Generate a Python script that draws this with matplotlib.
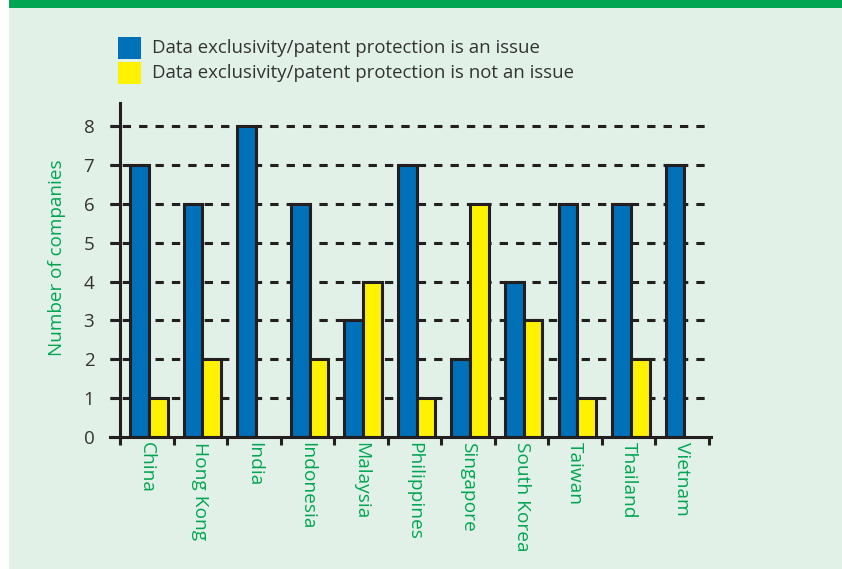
import matplotlib

matplotlib.use("Agg")
import matplotlib.pyplot as plt
import numpy as np
from matplotlib.patches import Rectangle

plt.rcParams["font.family"] = ["Open Sans", "DejaVu Sans"]
plt.rcParams["lines.scale_dashes"] = False

countries = ["China", "Hong Kong", "India", "Indonesia", "Malaysia", "Philippines",
             "Singapore", "South Korea", "Taiwan", "Thailand", "Vietnam"]
is_issue = [7, 6, 8, 6, 3, 7, 2, 4, 6, 6, 7]
not_issue = [1, 2, 0, 2, 4, 1, 6, 3, 1, 2, 0]
yticks = [0, 1, 2, 3, 4, 5, 6, 7, 8]
legend_labels = ["Data exclusivity/patent protection is an issue",
                 "Data exclusivity/patent protection is not an issue"]

BLUE = "#0070b9"
YELLOW = "#fff200"
GREEN = "#00a651"
INK = "#231f20"
GREY = "#333333"
BG = "#e2f1e7"

W, H = 842, 569
fig = plt.figure(figsize=(W / 100, H / 100), dpi=100)
fig.patch.set_facecolor("white")

# panel background and green top rule
fig.patches.append(Rectangle((9 / W, 0), 1 - 9 / W, 1, transform=fig.transFigure,
                             facecolor=BG, edgecolor="none", zorder=-3))
fig.patches.append(Rectangle((9 / W, 1 - 8 / H), 1 - 9 / W, 8 / H, transform=fig.transFigure,
                             facecolor=GREEN, edgecolor="none", zorder=-2))

ax = fig.add_axes([110 / W, 1 - 437 / H, (711 - 110) / W, (437 - 103) / H])
ax.set_facecolor("none")

n = len(countries)
x = np.arange(n)
bw = 0.35
lw = 2.2

issue = np.array(is_issue)
other = np.array(not_issue)
ax.bar(x[issue > 0] + 0.19 + bw / 2, issue[issue > 0], width=bw,
       color=BLUE, edgecolor=INK, linewidth=lw, zorder=3)
ax.bar(x[other > 0] + 0.19 + bw * 1.5, other[other > 0], width=bw,
       color=YELLOW, edgecolor=INK, linewidth=lw, zorder=3)

# dashed gridlines
x0 = -10 / 53.55
x1 = n + 2 / 53.55
ax.hlines(yticks[1:], x0, x1, colors=INK, linewidth=lw,
          linestyles=[(3, (6.0, 5.8))], zorder=1)

ax.set_xlim(x0, x1)
ax.set_ylim(0, 8.6)

for s in ["top", "right"]:
    ax.spines[s].set_visible(False)
ax.spines["left"].set_position(("data", 0))
for s in ["left", "bottom"]:
    ax.spines[s].set_color(INK)
    ax.spines[s].set_linewidth(lw)
    ax.spines[s].set_zorder(4)

ax.set_yticks(yticks)
ax.set_yticklabels([str(v) for v in yticks])
ax.tick_params(axis="y", direction="out", length=7.5, width=lw, color=INK,
               labelcolor=GREY, labelsize=13.5, pad=11)

ax.set_xticks(np.arange(n + 1))
ax.set_xticklabels([])
ax.set_xticks(x + 0.5, minor=True)
ax.set_xticklabels(countries, minor=True, rotation=-90, color=GREEN, fontsize=13.8,
                   va="top", ha="center")
ax.tick_params(axis="x", which="major", direction="out", length=5.5, width=lw, color=INK)
ax.tick_params(axis="x", which="minor", length=0, pad=3.5)

fig.text(57 / W, 1 - 258 / H, "Number of companies", rotation=90, color=GREEN,
         fontsize=13.6, ha="center", va="center")

# legend
for i, (lab, col) in enumerate(zip(legend_labels, [BLUE, YELLOW])):
    top = 37 + i * 25
    fig.patches.append(Rectangle((118 / W, 1 - (top + 22) / H), 23 / W, 22 / H,
                                 transform=fig.transFigure, facecolor=col,
                                 edgecolor="none", zorder=2))
    fig.text(152 / W, 1 - (top + 11) / H, lab, color=GREY, fontsize=13.4,
             ha="left", va="center")

fig.savefig("out.png", dpi=100, facecolor=fig.get_facecolor())
